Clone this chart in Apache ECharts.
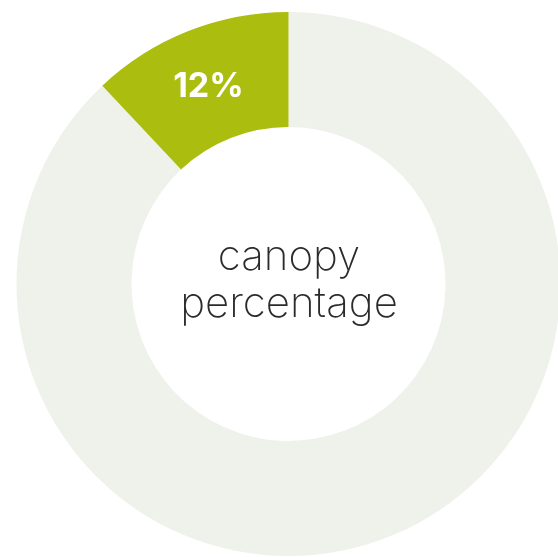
<!DOCTYPE html>
<html>
<head>
<meta charset="utf-8">
<style>
  html, body { margin: 0; padding: 0; background: #ffffff; }
  #chart { width: 558px; height: 557px; }
</style>
<script src="https://cdn.jsdelivr.net/npm/echarts@6/dist/echarts.min.js"></script>
</head>
<body>
<div id="chart"></div>
<script>
// Share of canopy cover versus the rest
const categories = ['other', 'canopy'];
const values = [88, 12];
const colors = ['#eff2eb', '#abbd0f'];
const centerLabel = 'canopy\npercentage';

const chart = echarts.init(document.getElementById('chart'), null, { renderer: 'canvas' });

const data = categories.map((name, i) => ({
  name: name,
  value: values[i],
  itemStyle: { color: colors[i] },
  label: {
    show: name === 'canopy',
    position: 'inside',
    formatter: '{c}%',
    color: '#ffffff',
    fontFamily: 'Inter, "Open Sans", sans-serif',
    fontWeight: 'bold',
    fontSize: 34
  }
}));

chart.setOption({
  animation: false,
  series: [{
    type: 'pie',
    center: [288.5, 284],
    radius: [157, 272],
    startAngle: 90,
    clockwise: true,
    silent: true,
    labelLine: { show: false },
    labelLayout: { dy: 5 },
    emphasis: { disabled: true },
    data: data
  }],
  graphic: [{
    type: 'text',
    x: 289,
    y: 281,
    style: {
      text: centerLabel,
      textAlign: 'center',
      textVerticalAlign: 'middle',
      fontFamily: 'Inter, Lato, sans-serif',
      fontWeight: 200,
      fontSize: 42,
      lineHeight: 47,
      fill: '#2b2b2b'
    }
  }]
});
</script>
</body>
</html>
